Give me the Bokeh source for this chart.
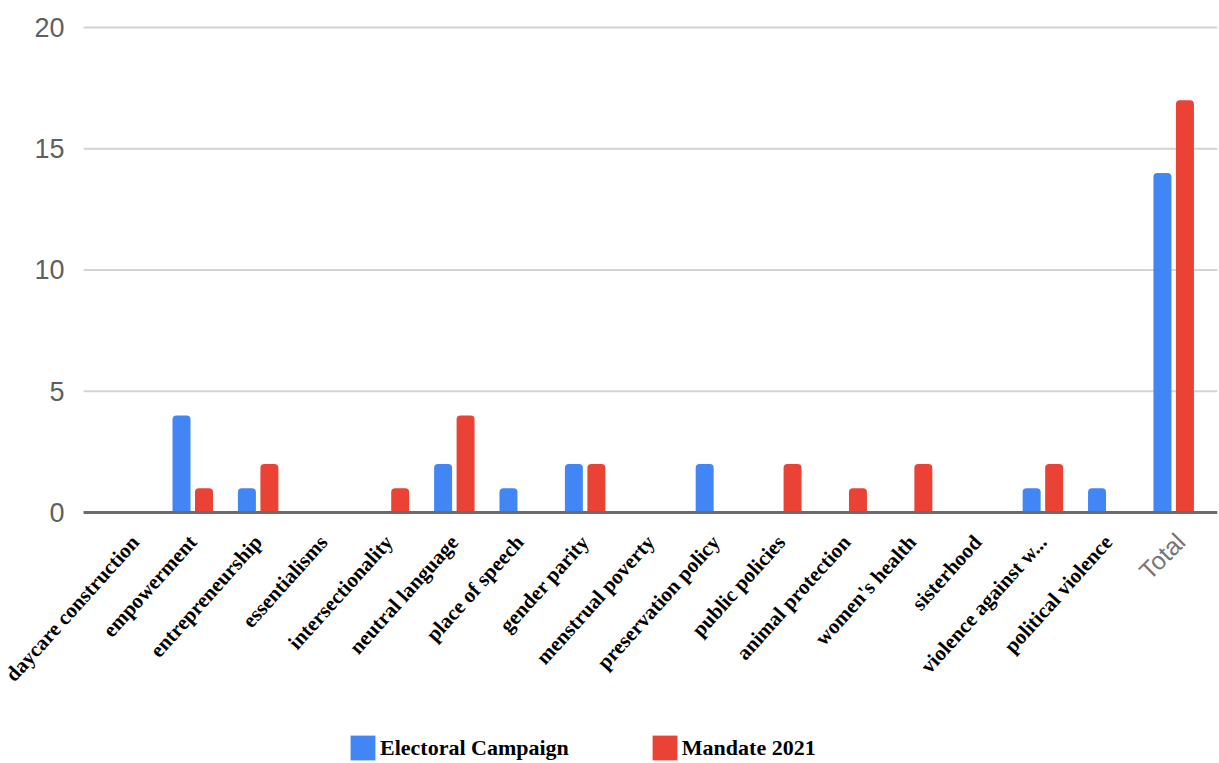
import math

from bokeh.core.properties import value
from bokeh.embed import file_html
from bokeh.models import FixedTicker, Legend, LegendItem, Range1d
from bokeh.plotting import figure
from bokeh.resources import INLINE

# Themes mentioned, per category
categories = [
    "daycare construction", "empowerment", "entrepreneurship", "essentialisms",
    "intersectionality", "neutral language", "place of speech", "gender parity",
    "menstrual poverty", "preservation policy", "public policies",
    "animal protection", "women's health", "sisterhood",
    "violence against w...", "political violence", "Total",
]
electoral_campaign = [0, 4, 1, 0, 0, 2, 1, 2, 0, 2, 0, 0, 0, 0, 1, 1, 14]
mandate_2021 = [0, 1, 2, 0, 1, 4, 0, 2, 0, 0, 2, 1, 2, 0, 2, 0, 17]
y_ticks = [0, 5, 10, 15, 20]

BLUE = "#4285F4"
RED = "#EA4335"

n = len(categories)
xs = list(range(n))
x_lo, x_hi = -0.67, n - 1 + 0.67

# the frame covers the whole page so the slanted theme names, the Total
# label and the legend all have room; both axes are pinned in data space
p = figure(
    width=1219, height=763,
    x_range=Range1d(-1.94, x_hi),
    y_range=Range1d(-10.35, 21.11),
    output_backend="svg", toolbar_location=None,
    min_border_left=0, min_border_right=2, min_border_top=0,
    min_border_bottom=0,
)
p.outline_line_color = None
p.background_fill_color = "white"
p.border_fill_color = "white"
p.xgrid.grid_line_color = None
p.ygrid.grid_line_color = None

# horizontal grid lines across the plotting area only
grid_y = y_ticks[1:]
p.segment(x0=[x_lo] * len(grid_y), y0=grid_y,
          x1=[x_hi] * len(grid_y), y1=grid_y,
          line_color="#d4d4d4", line_width=2)

bw = 0.275
off = 0.172
r_blue = p.vbar(x=[x - off for x in xs], top=electoral_campaign, width=bw,
                fill_color=BLUE, line_color=None, border_radius=(4, 4, 0, 0))
r_red = p.vbar(x=[x + off for x in xs], top=mandate_2021, width=bw,
               fill_color=RED, line_color=None, border_radius=(4, 4, 0, 0))

# zero baseline
p.segment(x0=[x_lo], y0=[0], x1=[x_hi], y1=[0],
          line_color="#6b6b6b", line_width=3)

# y axis
yaxis = p.yaxis[0]
yaxis.fixed_location = x_lo
yaxis.ticker = FixedTicker(ticks=y_ticks)
yaxis.axis_line_color = None
yaxis.major_tick_line_color = None
yaxis.minor_tick_line_color = None
yaxis.major_label_text_font = "Liberation Sans"
yaxis.major_label_text_font_size = "27px"
yaxis.major_label_text_color = "#5f5f5f"
yaxis.major_label_standoff = 13

# x axis on the zero line, carrying the theme names
xaxis = p.xaxis[0]
xaxis.fixed_location = 0
xaxis.ticker = FixedTicker(ticks=xs[:-1])
xaxis.major_label_overrides = {i: categories[i] for i in xs[:-1]}
xaxis.major_label_orientation = math.radians(48)
xaxis.major_label_text_font = "Liberation Serif"
xaxis.major_label_text_font_style = "bold"
xaxis.major_label_text_font_size = "21px"
xaxis.major_label_text_color = "black"
xaxis.major_label_standoff = 20
xaxis.axis_line_color = None
xaxis.major_tick_line_color = None
xaxis.minor_tick_line_color = None

# the Total column keeps the chart's own sans label
p.text(x=[xs[-1]], y=[0], text=[categories[-1]],
       angle=math.pi / 4, text_align="right", text_baseline="middle",
       x_offset=7, y_offset=25,
       text_font=value("Liberation Sans"), text_font_size="25px",
       text_color="#757575")

legend = Legend(
    items=[LegendItem(label="Electoral Campaign", renderers=[r_blue]),
           LegendItem(label="Mandate 2021", renderers=[r_red])],
    orientation="horizontal",
    location=(347, 0),
    label_text_font="Liberation Serif",
    label_text_font_style="bold",
    label_text_font_size="22px",
    label_text_color="black",
    glyph_width=31, glyph_height=31,
    spacing=80, label_standoff=2, padding=0, margin=0,
    border_line_color=None, background_fill_alpha=0,
)
p.add_layout(legend, "center")

open("out.html", "w").write(file_html(p, INLINE))
